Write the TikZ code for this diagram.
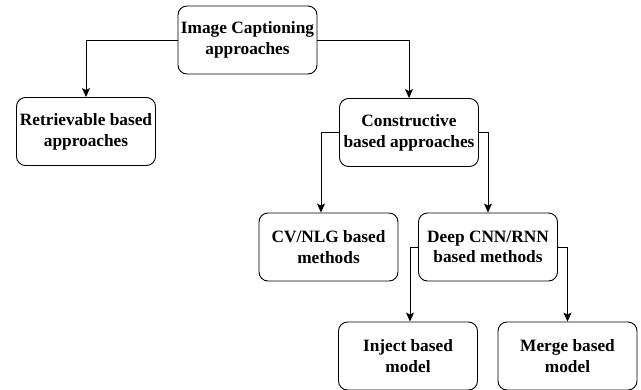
\documentclass[tikz,border=0pt]{standalone}
\usepackage{fontspec}
\setmainfont{Liberation Serif}
\usetikzlibrary{arrows.meta}
\begin{document}
\begin{tikzpicture}[x=1pt,y=-1pt,
  box/.style={draw, line width=0.9pt, rounded corners=9pt, minimum width=139pt, minimum height=68pt,
    inner sep=0pt, align=center, font=\fontsize{17.3}{20.7}\selectfont\bfseries},
  arr/.style={line width=0.9pt, -{Stealth[length=9pt,width=8pt,inset=2pt]}}]
\useasboundingbox (0,0) rectangle (641,389);
\node[box] (img) at (247.5,40) {Image Captioning\\approaches};
\node[box] (ret) at (86,131.5) {Retrievable based\\approaches};
\node[box] (con) at (409,132.5) {Constructive\\based approaches};
\node[box] (cv) at (328.5,247) {CV/NLG based\\methods};
\node[box] (deep) at (488,247) {Deep CNN/RNN\\based methods};
\node[box] (inj) at (408,356) {Inject based\\model};
\node[box] (mrg) at (567.5,356) {Merge based\\model};
\draw[arr] (img.west) -| (ret.north);
\draw[arr] (img.east) -| (con.north);
\draw[arr] (con.west) -| ([xshift=-7.5pt]cv.north);
\draw[arr] (con.east) -| (deep.north);
\draw[arr] (deep.west) -| ([xshift=2pt]inj.north);
\draw[arr] (deep.east) -| (mrg.north);
\end{tikzpicture}
\end{document}
